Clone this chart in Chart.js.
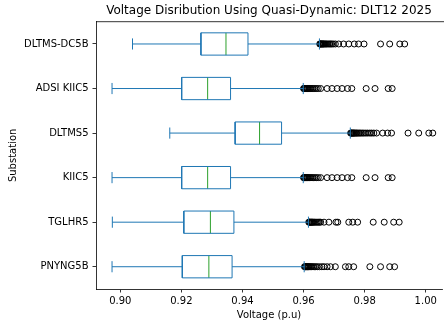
<!DOCTYPE html>
<html lang="en">
<head>
  <meta charset="UTF-8" />
  <title>Voltage Distribution Boxplot</title>
  <script src="https://cdn.jsdelivr.net/npm/chart.js"></script>
  <style>
    body { margin: 0; background: #fff; overflow: hidden; }
  </style>
</head>
<body>
<canvas id="boxChart" width="447" height="324"></canvas>

<script>
  // substations listed bottom -> top (matplotlib positions 1..6)
  const substations = ['PNYNG5B', 'TGLHR5', 'KIIC5', 'DLTMS5', 'ADSI KIIC5', 'DLTMS-DC5B'];
  const positions = [1, 2, 3, 4, 5, 6];

  const whiskerLow  = [0.8973, 0.8974, 0.8973, 0.9162, 0.8973, 0.9040];
  const q1          = [0.9203, 0.9208, 0.9201, 0.9376, 0.9201, 0.9264];
  const medians     = [0.9290, 0.9295, 0.9286, 0.9456, 0.9286, 0.9346];
  const q3          = [0.9366, 0.9372, 0.9361, 0.9528, 0.9361, 0.9418];
  const whiskerHigh = [0.9602, 0.9616, 0.9599, 0.9753, 0.9599, 0.9652];

  const fliers = [
    [0.9603, 0.9605, 0.9606, 0.9608, 0.9610, 0.9612, 0.9614, 0.9616, 0.9618, 0.9621, 0.9624, 0.9627, 0.9631, 0.9635, 0.9640, 0.9645,
     0.9652, 0.9660, 0.9667, 0.9677, 0.9688, 0.9704, 0.9737, 0.9748, 0.9764, 0.9817, 0.9852, 0.9882, 0.9898],
    [0.9617, 0.9619, 0.9620, 0.9622, 0.9624, 0.9626, 0.9628, 0.9630, 0.9633, 0.9636, 0.9640, 0.9644, 0.9648, 0.9652, 0.9656,
     0.9667, 0.9683, 0.9706, 0.9712, 0.9748, 0.9761, 0.9777, 0.9828, 0.9864, 0.9895, 0.9913],
    [0.9600, 0.9601, 0.9603, 0.9604, 0.9606, 0.9608, 0.9610, 0.9612, 0.9614, 0.9617, 0.9620, 0.9624, 0.9628, 0.9632, 0.9637,
     0.9642, 0.9648, 0.9656, 0.9677, 0.9693, 0.9710, 0.9726, 0.9744, 0.9758, 0.9805, 0.9834, 0.9877, 0.9890],
    [0.9754, 0.9756, 0.9757, 0.9759, 0.9761, 0.9763, 0.9765, 0.9767, 0.9770, 0.9773, 0.9776, 0.9780, 0.9784, 0.9788, 0.9793,
     0.9798, 0.9804, 0.9810, 0.9817, 0.9823, 0.9830, 0.9839, 0.9859, 0.9875, 0.9888, 0.9942, 0.9977, 1.0010, 1.0023],
    [0.9600, 0.9601, 0.9603, 0.9604, 0.9606, 0.9608, 0.9610, 0.9612, 0.9614, 0.9617, 0.9620, 0.9624, 0.9628, 0.9632, 0.9637,
     0.9642, 0.9648, 0.9656, 0.9677, 0.9693, 0.9710, 0.9726, 0.9744, 0.9758, 0.9805, 0.9834, 0.9877, 0.9890],
    [0.9653, 0.9654, 0.9656, 0.9657, 0.9659, 0.9661, 0.9663, 0.9665, 0.9667, 0.9670, 0.9673, 0.9676, 0.9680, 0.9684, 0.9688,
     0.9692, 0.9697, 0.9704, 0.9715, 0.9731, 0.9748, 0.9766, 0.9780, 0.9798, 0.9852, 0.9882, 0.9915, 0.9931]
  ];

  const xTicks = [0.90, 0.92, 0.94, 0.96, 0.98, 1.00];

  const boxBlue = '#1f77b4';
  const medGreen = '#2ca02c';
  const halfBox = 0.25;
  const halfCap = 0.125;

  const lineStyle = { showLine: true, pointRadius: 0, borderWidth: 1, fill: false, tension: 0, spanGaps: false };
  const gap = { x: null, y: null };

  const datasets = [];
  positions.forEach((y, i) => {
    datasets.push({ ...lineStyle, borderColor: boxBlue, data: [
      { x: q1[i], y: y - halfBox }, { x: q3[i], y: y - halfBox },
      { x: q3[i], y: y + halfBox }, { x: q1[i], y: y + halfBox },
      { x: q1[i], y: y - halfBox }
    ]});
    datasets.push({ ...lineStyle, borderColor: boxBlue, data: [
      { x: whiskerLow[i], y: y }, { x: q1[i], y: y }, gap,
      { x: q3[i], y: y }, { x: whiskerHigh[i], y: y }, gap,
      { x: whiskerLow[i], y: y - halfCap }, { x: whiskerLow[i], y: y + halfCap }, gap,
      { x: whiskerHigh[i], y: y - halfCap }, { x: whiskerHigh[i], y: y + halfCap }
    ]});
    datasets.push({ ...lineStyle, borderColor: medGreen, data: [
      { x: medians[i], y: y - halfBox }, { x: medians[i], y: y + halfBox }
    ]});
    datasets.push({
      showLine: false,
      pointRadius: 3,
      pointBorderWidth: 1,
      pointBorderColor: '#000',
      pointBackgroundColor: 'rgba(0,0,0,0)',
      data: fliers[i].map(v => ({ x: v, y: y }))
    });
  });

  // top spine
  const frameTop = {
    id: 'frameTop',
    afterDraw(chart) {
      const { ctx, chartArea } = chart;
      ctx.save();
      ctx.strokeStyle = '#000';
      ctx.lineWidth = 0.8;
      ctx.beginPath();
      ctx.moveTo(chartArea.left, chartArea.top);
      ctx.lineTo(chartArea.right + 2, chartArea.top);
      ctx.stroke();
      ctx.restore();
    }
  };

  Chart.defaults.font.family = 'DejaVu Sans';
  Chart.defaults.color = '#000';

  new Chart(document.getElementById('boxChart'), {
    type: 'scatter',
    data: { datasets },
    plugins: [frameTop],
    options: {
      responsive: false,
      animation: false,
      layout: { padding: { right: 1 } },
      plugins: {
        legend: { display: false },
        tooltip: { enabled: false },
        title: {
          display: true,
          fullSize: false,
          text: 'Voltage Disribution Using Quasi-Dynamic: DLT12 2025',
          font: { size: 12, weight: 'normal' },
          color: '#000',
          padding: { top: 4, bottom: 3.3 }
        }
      },
      scales: {
        x: {
          type: 'linear',
          min: 0.89205,
          max: 1.00532,
          afterBuildTicks: axis => { axis.ticks = xTicks.map(v => ({ value: v })); },
          afterFit: axis => { axis.height = 35; },
          ticks: {
            font: { size: 10 },
            color: '#000',
            padding: 3,
            maxRotation: 0,
            callback: v => v.toFixed(2)
          },
          grid: { drawOnChartArea: false, color: '#000', lineWidth: 0.8, tickLength: 3.5 },
          border: { display: true, color: '#000', width: 0.8 },
          title: { display: true, text: 'Voltage (p.u)', font: { size: 10 }, color: '#000', padding: { top: 0, bottom: 3 } }
        },
        y: {
          type: 'linear',
          min: 0.5,
          max: 6.5,
          afterBuildTicks: axis => { axis.ticks = positions.map(v => ({ value: v })); },
          afterFit: axis => { axis.width = 96; },
          ticks: {
            font: { size: 10 },
            color: '#000',
            padding: 4,
            callback: v => substations[positions.indexOf(v)]
          },
          grid: { drawOnChartArea: false, color: '#000', lineWidth: 0.8, tickLength: 3.5 },
          border: { display: true, color: '#000', width: 0.8 },
          title: { display: true, text: 'Substation', font: { size: 10 }, color: '#000', padding: { top: 7, bottom: 0 } }
        }
      }
    }
  });
</script>
</body>
</html>
